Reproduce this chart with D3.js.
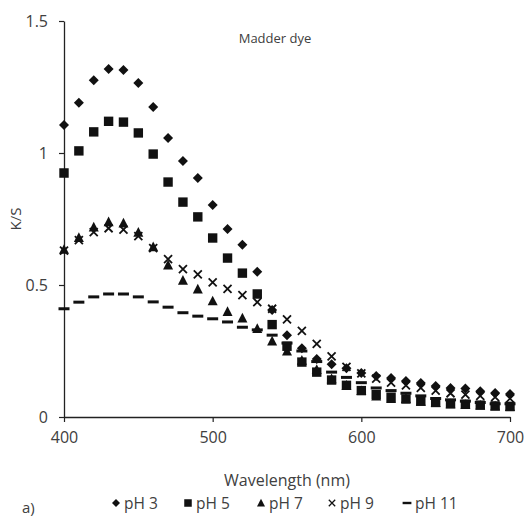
<!DOCTYPE html>
<html>
<head>
<meta charset="utf-8">
<script src="https://cdn.jsdelivr.net/npm/d3@7"></script>
<style>
  html, body { margin: 0; padding: 0; background: #fff; }
  svg text { font-family: "Open Sans", sans-serif; fill: #404040; }
</style>
</head>
<body>
<svg id="chart" width="526" height="520"></svg>
<script>
const wavelengths = d3.range(400, 701, 10);
const pH3 = [1.106, 1.19, 1.276, 1.318, 1.314, 1.265, 1.174, 1.057, 0.97, 0.905, 0.803, 0.712, 0.652, 0.55, 0.405, 0.31, 0.26, 0.22, 0.20, 0.185, 0.167, 0.155, 0.148, 0.136, 0.129, 0.117, 0.11, 0.108, 0.098, 0.091, 0.087];
const pH5 = [0.924, 1.008, 1.08, 1.12, 1.117, 1.076, 0.996, 0.89, 0.814, 0.758, 0.678, 0.602, 0.545, 0.466, 0.35, 0.268, 0.208, 0.17, 0.14, 0.12, 0.10, 0.085, 0.075, 0.068, 0.06, 0.055, 0.05, 0.048, 0.045, 0.042, 0.04];
const pH7 = [0.635, 0.68, 0.72, 0.74, 0.735, 0.70, 0.645, 0.576, 0.518, 0.485, 0.44, 0.40, 0.375, 0.335, 0.288, 0.25, 0.215, 0.18, 0.145, 0.12, 0.10, 0.08, 0.07, 0.07, 0.06, 0.055, 0.05, 0.048, 0.045, 0.042, 0.04];
const pH9 = [0.63, 0.67, 0.70, 0.715, 0.71, 0.685, 0.64, 0.598, 0.56, 0.54, 0.51, 0.485, 0.462, 0.435, 0.41, 0.37, 0.326, 0.277, 0.23, 0.19, 0.165, 0.145, 0.13, 0.12, 0.11, 0.10, 0.09, 0.085, 0.08, 0.075, 0.07];
const pH11 = [0.41, 0.435, 0.455, 0.466, 0.466, 0.455, 0.436, 0.416, 0.395, 0.382, 0.372, 0.36, 0.34, 0.33, 0.31, 0.28, 0.25, 0.21, 0.17, 0.15, 0.13, 0.11, 0.10, 0.09, 0.08, 0.07, 0.065, 0.06, 0.055, 0.05, 0.05];
const seriesNames = ["pH 3", "pH 5", "pH 7", "pH 9", "pH 11"];
const seriesShapes = ["diamond", "square", "triangle", "cross", "dash"];
const xTicks = [400, 500, 600, 700];
const yTicks = [0, 0.5, 1, 1.5];
const yTickLabels = ["0", "0.5", "1", "1.5"];

const seriesValues = [pH3, pH5, pH7, pH9, pH11];

const svg = d3.select("#chart");
const x = d3.scaleLinear().domain([400, 700]).range([64, 510]);
const y = d3.scaleLinear().domain([0, 1.5]).range([417, 21]);
const FONT = "'Open Sans', sans-serif";

// axes
const xAxis = d3.axisBottom(x).tickValues(xTicks).tickSize(5).tickSizeOuter(0).tickFormat(d3.format("d"));
const gx = svg.append("g").attr("transform", `translate(0,${y(0)})`).call(xAxis);
gx.select(".domain").attr("stroke", "#222").attr("stroke-width", 1.3);
gx.selectAll(".tick line").attr("stroke", "#222").attr("stroke-width", 1.2);
gx.selectAll(".tick text").attr("font-size", 16).attr("y", 12).attr("dy", "0.9em")
  .style("font-family", FONT).attr("fill", "#404040");

const yAxis = d3.axisLeft(y).tickValues(yTicks).tickSize(5).tickSizeOuter(0)
  .tickFormat((d, i) => yTickLabels[i]);
const gy = svg.append("g").attr("transform", `translate(${x(400)},0)`).call(yAxis);
gy.select(".domain").attr("stroke", "#222").attr("stroke-width", 1.3);
gy.selectAll(".tick line").attr("stroke", "#222").attr("stroke-width", 1.2);
gy.selectAll(".tick text").attr("font-size", 16).attr("x", -16)
  .style("font-family", FONT).attr("fill", "#404040");

// markers
function shapePath(shape, cx, cy) {
  const s = 5;
  switch (shape) {
    case "diamond": return `M${cx},${cy - s}L${cx + s},${cy}L${cx},${cy + s}L${cx - s},${cy}Z`;
    case "square": return `M${cx - 4.7},${cy - 4.7}h9.4v9.4h-9.4Z`;
    case "triangle": return `M${cx},${cy - 5.2}L${cx + 5},${cy + 4.5}L${cx - 5},${cy + 4.5}Z`;
    case "cross": return `M${cx - 4},${cy - 4}L${cx + 4},${cy + 4}M${cx + 4},${cy - 4}L${cx - 4},${cy + 4}`;
    case "dash": return `M${cx - 5.5},${cy - 1.5}h11v3h-11Z`;
  }
}

const plot = svg.append("g");
seriesValues.forEach((vals, si) => {
  const shape = seriesShapes[si];
  plot.append("g").selectAll("path")
    .data(wavelengths.map((w, i) => ({ w, v: vals[i] })))
    .join("path")
    .attr("d", d => shapePath(shape, x(d.w), y(d.v)))
    .attr("fill", shape === "cross" ? "none" : "#111")
    .attr("stroke", shape === "cross" ? "#111" : "none")
    .attr("stroke-width", shape === "cross" ? 1.8 : 0);
});

// title
svg.append("text").attr("x", 275).attr("y", 43).attr("text-anchor", "middle")
  .attr("font-size", 13).text("Madder dye");

// axis titles
svg.append("text").attr("transform", `translate(21,${y(0.75)}) rotate(-90)`)
  .attr("text-anchor", "middle").attr("font-size", 15).text("K/S");
svg.append("text").attr("x", 287).attr("y", 486).attr("text-anchor", "middle")
  .attr("font-size", 16).text("Wavelength (nm)");

// legend
const legendX = [116, 188, 261, 332, 407];
const legend = svg.append("g");
seriesNames.forEach((name, i) => {
  const cx = legendX[i], cy = 503;
  const shape = seriesShapes[i];
  legend.append("path")
    .attr("d", shapePath(shape, cx, cy))
    .attr("transform", `translate(${cx},${cy}) scale(0.8) translate(${-cx},${-cy})`)
    .attr("fill", shape === "cross" ? "none" : "#111")
    .attr("stroke", shape === "cross" ? "#111" : "none")
    .attr("stroke-width", shape === "cross" ? 1.6 : 0);
  legend.append("text").attr("x", cx + 8).attr("y", cy + 5.5)
    .attr("font-size", 15.5).text(name);
});

svg.append("text").attr("x", 22).attr("y", 513).attr("font-size", 15).text("a)");
</script>
</body>
</html>
